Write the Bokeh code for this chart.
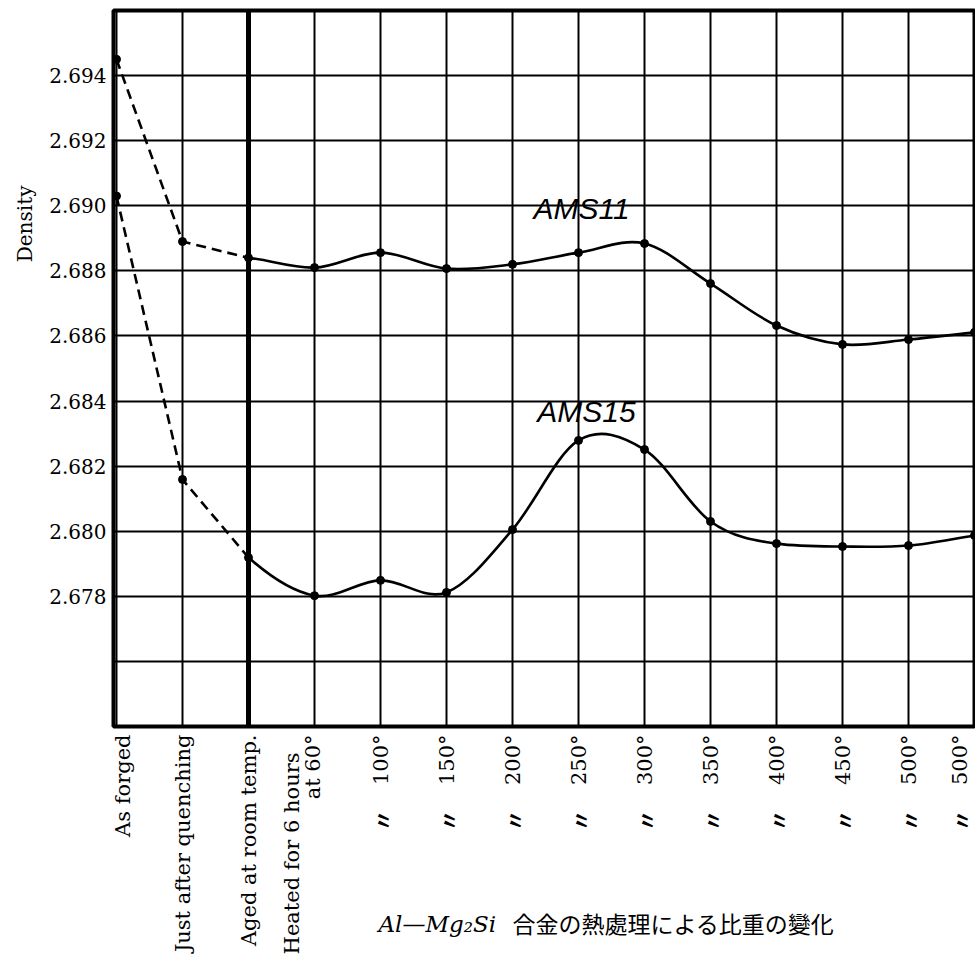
from math import pi, hypot
from bokeh.plotting import figure
from bokeh.layouts import column
from bokeh.models import (Range1d, FixedTicker, NumeralTickFormatter, Span, ColumnDataSource, Title)
from bokeh.core.properties import value
from bokeh.embed import file_html
from bokeh.resources import INLINE

# ---------------- data ----------------
CATEGORIES = ["As forged", "Just after quenching", "Aged at room temp.", "at 60°",
              "100°", "150°", "200°", "250°", "300°", "350°", "400°", "450°", "500°", "500°"]
HEATED_NOTE = "Heated for 6 hours"
DITTO = "〃"
AMS11 = [2.6945, 2.6889, 2.6884, 2.6881, 2.68856, 2.68807, 2.6882, 2.68856,
         2.68884, 2.68761, 2.68632, 2.68574, 2.68589, 2.68611]
AMS15 = [2.6903, 2.68159, 2.67919, 2.67802, 2.67849, 2.67812, 2.68005, 2.68279,
         2.68251, 2.6803, 2.67962, 2.67953, 2.67956, 2.67987]
SERIES_NAMES = ["AMS11", "AMS15"]
Y_TICKS = [2.678, 2.680, 2.682, 2.684, 2.686, 2.688, 2.690, 2.692, 2.694]
Y_GRID = [2.676, 2.678, 2.680, 2.682, 2.684, 2.686, 2.688, 2.690, 2.692, 2.694]
Y_LABEL = "Density"
CAPTION_FORMULA = "Al—Mg₂Si"
CAPTION_TEXT = "合金の熱處理による比重の變化"

# ---------------- layout constants ----------------
W = 975
MAIN_H, BOTTOM_H = 730, 242
FRAME_LEFT, FRAME_TOP = 113, 10
FRAME_W, FRAME_H = 862, 716
PX_PER_IDX = 66.0
X0 = -3.0 / PX_PER_IDX
X_END = X0 + FRAME_W / PX_PER_IDX
Y0, Y1 = 2.674, 2.696
SERIF = "DejaVu Serif"

idx = list(range(len(CATEGORIES)))
THICK_COLUMN = CATEGORIES.index("Aged at room temp.")

# ================= main chart =================
p = figure(width=W, height=MAIN_H,
           x_range=Range1d(X0, X_END), y_range=Range1d(Y0, Y1),
           output_backend="svg", toolbar_location=None,
           min_border_left=FRAME_LEFT, min_border_right=0,
           min_border_top=FRAME_TOP, min_border_bottom=MAIN_H - FRAME_TOP - FRAME_H)
p.background_fill_color = "white"
p.border_fill_color = "white"
p.outline_line_color = "black"
p.outline_line_width = 4

p.xgrid.ticker = FixedTicker(ticks=idx)
p.ygrid.ticker = FixedTicker(ticks=Y_GRID)
p.grid.grid_line_color = "black"
p.grid.grid_line_alpha = 1.0
p.xgrid.grid_line_width = 2
p.ygrid.grid_line_width = 1.8
p.add_layout(Span(location=THICK_COLUMN, dimension="height", line_color="black", line_width=5))

p.xaxis.visible = False
p.yaxis.axis_line_color = None
p.yaxis.major_tick_in = 0
p.yaxis.major_tick_out = 0
p.yaxis.minor_tick_in = 0
p.yaxis.minor_tick_out = 0
p.yaxis.ticker = FixedTicker(ticks=Y_TICKS)
p.yaxis.formatter = NumeralTickFormatter(format="0.000")
p.yaxis.major_label_text_font = SERIF
p.yaxis.major_label_text_font_size = "20px"
p.yaxis.major_label_text_color = "black"
p.yaxis.major_label_standoff = 7

p.add_layout(Title(text=Y_LABEL, align="right", offset=175, standoff=20,
                   text_font=SERIF, text_font_size="20px", text_font_style="normal",
                   text_color="black"), "left")


def segments(xs, ys):
    n = len(ys)
    d = [(ys[k + 1] - ys[k]) / (xs[k + 1] - xs[k]) for k in range(n - 1)]
    m = [0.0] * n
    m[0], m[-1] = d[0], d[-1]
    for k in range(1, n - 1):
        m[k] = (ys[k + 1] - ys[k - 1]) / (xs[k + 1] - xs[k - 1])
    for k in range(n - 1):
        if d[k] == 0:
            m[k] = m[k + 1] = 0.0
            continue
        a, b = m[k] / d[k], m[k + 1] / d[k]
        if a >= 0 and b >= 0 and a * a + b * b > 9:
            t = 3 / hypot(a, b)
            m[k], m[k + 1] = t * a * d[k], t * b * d[k]
    out = dict(x0=[], y0=[], x1=[], y1=[], cx0=[], cy0=[], cx1=[], cy1=[])
    for k in range(n - 1):
        h = xs[k + 1] - xs[k]
        out["x0"].append(xs[k]); out["y0"].append(ys[k])
        out["x1"].append(xs[k + 1]); out["y1"].append(ys[k + 1])
        out["cx0"].append(xs[k] + h / 3); out["cy0"].append(ys[k] + m[k] * h / 3)
        out["cx1"].append(xs[k + 1] - h / 3); out["cy1"].append(ys[k + 1] - m[k + 1] * h / 3)
    return out


for ys in (AMS11, AMS15):
    seg = segments(idx, ys)
    solid = {k: v[THICK_COLUMN:] for k, v in seg.items()}
    p.line(x=idx[:THICK_COLUMN + 1], y=ys[:THICK_COLUMN + 1], line_color="black",
           line_width=2.6, line_dash="10 6")
    p.bezier(x0="x0", y0="y0", x1="x1", y1="y1", cx0="cx0", cy0="cy0", cx1="cx1", cy1="cy1",
             source=ColumnDataSource(solid), line_color="black", line_width=2.6)
    p.scatter(x=idx, y=ys, size=8, marker="circle", fill_color="black", line_color="black")


def mx(px):
    return X0 + (px - FRAME_LEFT) / PX_PER_IDX


def my(py):
    return Y1 - (py - FRAME_TOP) / FRAME_H * (Y1 - Y0)


p.text(x=[mx(581), mx(586)], y=[my(208), my(411)], text=SERIES_NAMES,
       text_align="center", text_baseline="middle", text_color="black",
       text_font=value("Liberation Sans"), text_font_style="italic", text_font_size="30px")

# ================= labels under the chart (same x scale, frames aligned) =================
q = figure(width=W, height=BOTTOM_H, x_range=p.x_range, y_range=Range1d(0, BOTTOM_H),
           output_backend="svg", toolbar_location=None,
           x_axis_location=None, y_axis_location=None,
           min_border_left=FRAME_LEFT, min_border_right=0, min_border_top=0, min_border_bottom=0)
q.outline_line_color = None
q.grid.visible = False
q.background_fill_color = "white"
q.border_fill_color = "white"


def by(page_y):
    return MAIN_H + BOTTOM_H - page_y


label_shift = [0] * len(CATEGORIES)
label_shift[0] = 6             # keep the first label inside the drawing area
label_shift[-1] = -15          # keep the last, edge-clipped label readable
label_x = list(idx)
label_x[CATEGORIES.index("at 60°")] = mx(312)
q.text(x=label_x, y=[by(734)] * len(CATEGORIES), text=CATEGORIES, x_offset=label_shift,
       angle=pi / 2, text_align="right", text_baseline="middle", text_color="black",
       text_font=value(SERIF), text_font_size="21px")
q.text(x=[mx(291)], y=[by(752)], text=[HEATED_NOTE],
       angle=pi / 2, text_align="right", text_baseline="middle", text_color="black",
       text_font=value(SERIF), text_font_size="21px")

first_temp = CATEGORIES.index("100°")
ditto_x = idx[first_temp:]
q.text(x=ditto_x, y=[by(820)] * len(ditto_x), text=[DITTO] * len(ditto_x),
       x_offset=label_shift[first_temp:],
       angle=pi / 2, text_align="center", text_baseline="middle", text_color="black",
       text_font=value("Noto Sans CJK JP"), text_font_size="22px", text_font_style="bold")

q.text(x=[mx(378)], y=[by(923)], text=[CAPTION_FORMULA],
       text_align="left", text_baseline="middle", text_color="black",
       text_font=value(SERIF), text_font_style="italic", text_font_size="23px")
q.text(x=[mx(512)], y=[by(922)], text=[CAPTION_TEXT],
       text_align="left", text_baseline="middle", text_color="black",
       text_font=value("Noto Sans CJK JP"), text_font_size="23px")

layout = column(p, q, spacing=0)
open("out.html", "w").write(file_html(layout, INLINE))
